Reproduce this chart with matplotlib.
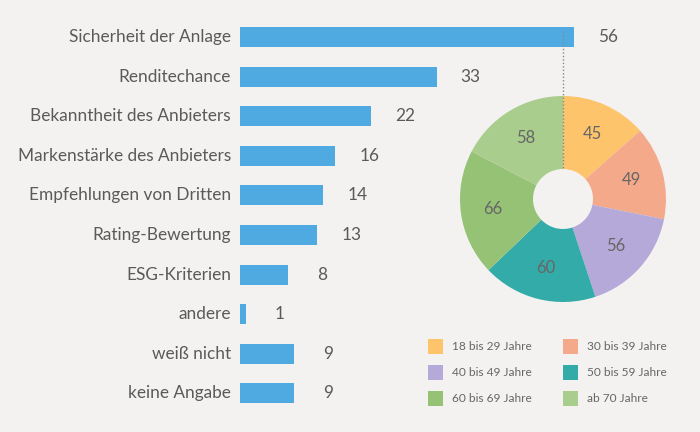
import matplotlib
matplotlib.use("Agg")
import matplotlib.pyplot as plt
from matplotlib.patches import Rectangle
from matplotlib.lines import Line2D

categories = ["Sicherheit der Anlage", "Renditechance", "Bekanntheit des Anbieters",
              "Markenstärke des Anbieters", "Empfehlungen von Dritten", "Rating-Bewertung",
              "ESG-Kriterien", "andere", "weiß nicht", "keine Angabe"]
values = [56, 33, 22, 16, 14, 13, 8, 1, 9, 9]

age_groups = ["18 bis 29 Jahre", "30 bis 39 Jahre", "40 bis 49 Jahre",
              "50 bis 59 Jahre", "60 bis 69 Jahre", "ab 70 Jahre"]
age_values = [45, 49, 56, 60, 66, 58]
age_colors = ["#fdc46c", "#f4a98a", "#b4a9d8", "#33aba9", "#96c276", "#a9cd8c"]

BG = "#f3f2f0"
BAR = "#4faae1"
TXT = "#5a5a5a"
FONT = "Lato"

W, H = 700, 432
fig = plt.figure(figsize=(7, 4.32), dpi=100, facecolor=BG)

# ---- bar chart (axes in pixel-like coordinates) ----
ax = fig.add_axes([240 / W, 0, (W - 240) / W, 1])
ax.set_facecolor("none")
px_per_unit = 5.96
ax.set_xlim(0, (W - 240) / px_per_unit)
ax.set_ylim(H, 0)
ypos = [37 + 39.6 * i for i in range(len(categories))]
ax.barh(ypos, values, height=20, color=BAR, edgecolor="none")
for y, v, c in zip(ypos, values, categories):
    ax.text(-9 / px_per_unit, y, c, ha="right", va="center", fontsize=12.4,
            color=TXT, family=FONT)
    ax.text(v + 34 / px_per_unit, y, str(v), ha="center", va="center", fontsize=12.4,
            color=TXT, family=FONT)
ax.axis("off")

# ---- donut chart ----
cx, cy, r = 563, 199, 103
pax = fig.add_axes([(cx - r) / W, (H - cy - r) / H, 2 * r / W, 2 * r / H])
pax.set_facecolor("none")
wedges, texts = pax.pie(age_values, colors=age_colors, startangle=90, counterclock=False,
                        radius=1, labels=[str(v) for v in age_values], labeldistance=0.69,
                        wedgeprops=dict(width=1 - 30 / 103, edgecolor="none"),
                        textprops=dict(fontsize=12, color="#666666", family=FONT))
for t in texts:
    t.set_ha("center")
    t.set_va("center")
pax.set_xlim(-1, 1)
pax.set_ylim(-1, 1)
pax.set_aspect("equal")
pax.axis("off")

# dotted connector
fig.add_artist(Line2D([cx / W, cx / W], [1 - 31 / H, 1 - 169 / H], transform=fig.transFigure,
                      color="#888888", linestyle=(0, (1, 1.5)), linewidth=1))

# ---- legend ----
col_x = [428, 563]
row_y = [346, 372, 398]
sq = 15
for i, (lab, col) in enumerate(zip(age_groups, age_colors)):
    x = col_x[i % 2]
    y = row_y[i // 2]
    fig.add_artist(Rectangle((x / W, 1 - (y + sq / 2) / H), sq / W, sq / H,
                             transform=fig.transFigure, facecolor=col, edgecolor="none"))
    fig.text((x + 24) / W, 1 - y / H, lab, ha="left", va="center", fontsize=8.6,
             color="#666666", family=FONT)

fig.savefig("out.png", dpi=100, facecolor=BG)
